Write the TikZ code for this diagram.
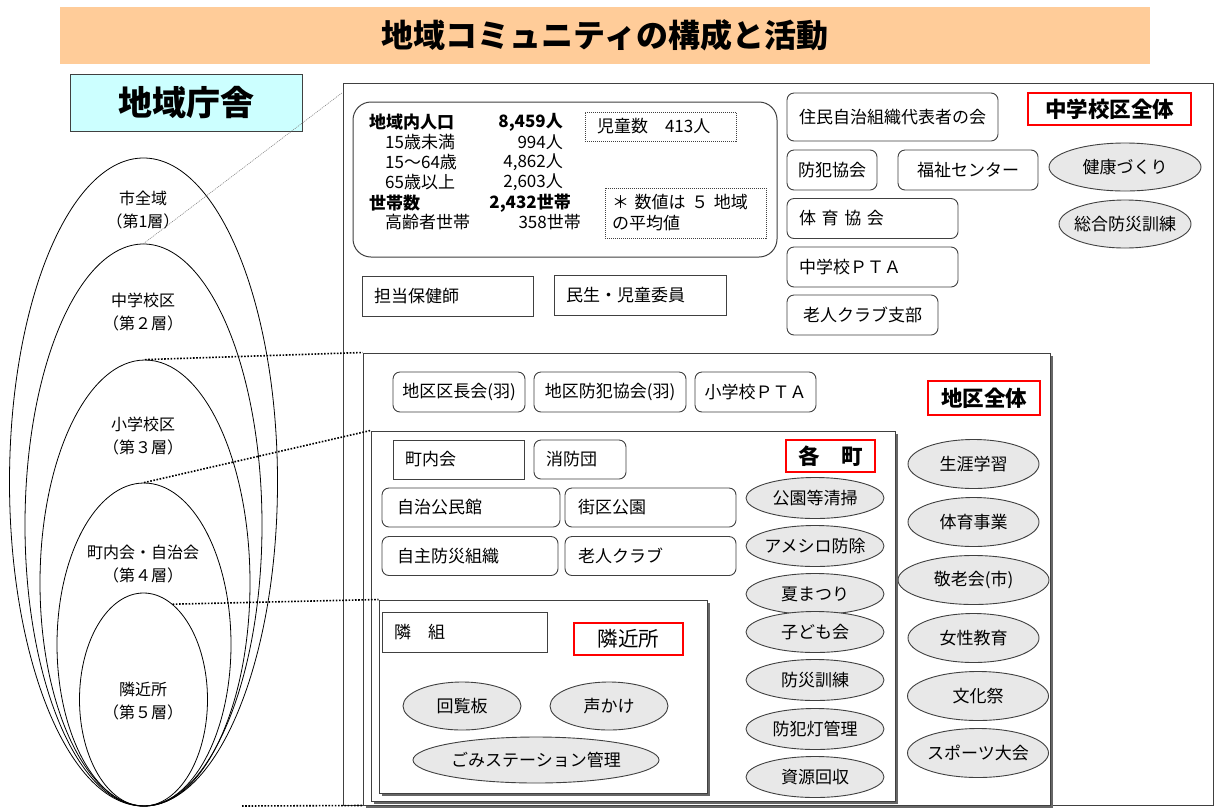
\documentclass[tikz,border=0pt]{standalone}
\usepackage{fontspec}
\setmainfont{Noto Sans CJK JP}
\usetikzlibrary{shapes.geometric,shadows}
\definecolor{band}{HTML}{FFCC99}
\definecolor{choshafill}{HTML}{CCFFFF}
\definecolor{ovalgray}{HTML}{E8E8E8}
\definecolor{frame}{HTML}{404040}
\newcommand{\ovtxt}[1]{\makebox[0pt]{#1}}

\begin{document}
\begin{tikzpicture}[x=1pt, y=-1pt,
  every node/.style={font=\fontsize{17}{20}\selectfont, inner sep=0pt},
  panel/.style={draw=frame, line width=1pt, fill=white},
  shade/.style={drop shadow={shadow xshift=3pt, shadow yshift=-3pt, fill=black!60, opacity=1}},
  sqbox/.style={draw=frame, line width=0.9pt, fill=white, minimum height=40pt, text width=#1, align=left, inner xsep=12pt},
  rbox/.style={sqbox=#1, rounded corners=7pt},
  redbox/.style={draw=red, line width=1.3pt, fill=white, font=\fontsize{21.5}{25}\selectfont\bfseries},
  oval/.style={ellipse, draw=frame, line width=0.9pt, fill=ovalgray, minimum width=#1, minimum height=48pt},
  layer/.style={ellipse, draw, line width=0.8pt, minimum width=#1},
  layertext/.style={align=center, font=\fontsize{16}{23}\selectfont},
  dotbox/.style={draw=frame, line width=1pt, dash pattern=on 1pt off 1pt, align=left},
  zoomline/.style={line width=1.6pt, dash pattern=on 1.6pt off 1.6pt}]
\useasboundingbox (0,0) rectangle (1215,807);

\node[fill=band, minimum width=1090pt, minimum height=57pt, font=\fontsize{32}{36}\selectfont\bfseries] (title) at (605,35.5) {地域コミュニティの構成と活動};
\node[draw=frame, line width=1pt, fill=choshafill, minimum width=232pt, minimum height=57pt, font=\fontsize{34}{38}\selectfont\bfseries] (chosha) at (186,102.5) {地域庁舎};

% layers
\node[layer=268pt, minimum height=648pt] (L1) at (143.5,482) {};
\node[layer=237pt, minimum height=562pt] (L2) at (143.5,525) {};
\node[layer=210pt, minimum height=446pt] (L3) at (145,583) {};
\node[layer=174pt, minimum height=323pt] (L4) at (144,644.5) {};
\node[layer=128pt, minimum height=213pt] (L5) at (143.5,699.5) {};
\node[layertext] (t1) at (143,210) {市全域\\（第1層）};
\node[layertext] (t2) at (143,311.5) {中学校区\\（第２層）};
\node[layertext] (t3) at (143,436) {小学校区\\（第３層）};
\node[layertext] (t4) at (143,564.5) {町内会・自治会\\（第４層）};
\node[layertext] (t5) at (143,701.5) {隣近所\\（第５層）};

% junior high school district
\node[panel, minimum width=870pt, minimum height=722pt] (chugaku) at (778,444) {};
\node[panel, rounded corners=18pt, minimum width=424pt, minimum height=155pt] (jinko) at (565,179.5) {};
\node[anchor=west, font=\fontsize{17}{20}\selectfont\bfseries] (p1) at (369,122) {地域内人口};
\node[anchor=west] (p2) at (385,142) {15歳未満};
\node[anchor=west] (p3) at (385,162) {15～64歳};
\node[anchor=west] (p4) at (385,182) {65歳以上};
\node[anchor=west, font=\fontsize{17}{20}\selectfont\bfseries] (p5) at (369,203) {世帯数};
\node[anchor=west] (p6) at (385,222) {高齢者世帯};
\node[anchor=east, font=\fontsize{17}{20}\selectfont\bfseries] (v1) at (563,122) {8,459人};
\node[anchor=east] (v2) at (563,142) {994人};
\node[anchor=east] (v3) at (563,162) {4,862人};
\node[anchor=east] (v4) at (563,182) {2,603人};
\node[anchor=east, font=\fontsize{17}{20}\selectfont\bfseries] (v5) at (571,203) {2,432世帯};
\node[anchor=east] (v6) at (581,222) {358世帯};
\node[dotbox, minimum width=151pt, minimum height=29pt, text width=127pt, inner xsep=12pt] (jido) at (660.5,126.5) {児童数　413人};
\node[dotbox, minimum width=161pt, minimum height=50pt, text width=147pt, inner xsep=7pt, font=\fontsize{17}{21}\selectfont] (heikin) at (685.5,213) {＊ 数値は ５ 地域\\の平均値};
\node[sqbox=147pt] (hokenshi) at (447.5,296) {担当保健師};
\node[sqbox=148pt] (minsei) at (640,295.5) {民生・児童委員};
\node[rbox=187pt, minimum height=48pt, align=center] (daihyo) at (892.5,117) {住民自治組織代表者の会};
\node[rbox=70pt, inner xsep=10pt, align=center] (bohan) at (832,170) {防犯協会};
\node[rbox=116pt, align=center] (fukushi) at (968,170) {福祉センター};
\node[rbox=147pt] (taiiku) at (872.5,218.5) {体 育 協 会};
\node[rbox=147pt] (cpta) at (872.5,267) {中学校ＰＴＡ};
\node[rbox=127pt, align=center] (rojin) at (862.5,315) {老人クラブ支部};
\node[redbox, minimum width=163pt, minimum height=32pt] (chugakuall) at (1109.5,109) {中学校区全体};
\node[oval=152pt] (kenko) at (1125,167) {\ovtxt{健康づくり}};
\node[oval=132pt] (sogo) at (1125,224) {\ovtxt{総合防災訓練}};

% district
\node[panel, shade, minimum width=687pt, minimum height=452pt] (chiku) at (706.5,579) {};
\node[rbox=116pt, inner xsep=8pt, align=center] (kucho) at (459,392) {地区区長会(羽)};
\node[rbox=136pt, inner xsep=8pt, align=center] (chikubohan) at (610,392) {地区防犯協会(羽)};
\node[rbox=105pt, inner xsep=8pt, align=center] (spta) at (755.5,392) {小学校ＰＴＡ};
\node[redbox, minimum width=112pt, minimum height=34pt] (chikuall) at (984,398) {地区全体};
\node[oval=131pt, minimum height=49pt] (shogai) at (973.5,464) {\ovtxt{生涯学習}};
\node[oval=131pt, minimum height=49pt] (taiikujigyo) at (973.5,522) {\ovtxt{体育事業}};
\node[oval=151pt, minimum height=49pt] (keiro) at (973.5,580) {\ovtxt{敬老会(市)}};
\node[oval=131pt, minimum height=49pt] (josei) at (973.5,638) {\ovtxt{女性教育}};
\node[oval=141pt, minimum height=49pt] (bunka) at (978,696) {\ovtxt{文化祭}};
\node[oval=141pt, minimum height=49pt] (sports) at (978,753) {\ovtxt{スポーツ大会}};

% each town
\node[panel, shade, minimum width=524pt, minimum height=370pt] (kakucho) at (633,616) {};
\node[sqbox=107pt, minimum height=39pt] (chonaikai) at (458.5,459.5) {町内会};
\node[rbox=68pt, minimum height=39pt] (shobodan) at (580,459.5) {消防団};
\node[rbox=148pt, inner xsep=15pt, minimum height=39pt] (kominkan) at (471,507.5) {自治公民館};
\node[rbox=145pt, inner xsep=13pt, minimum height=39pt] (gaiku) at (650.5,507.5) {街区公園};
\node[rbox=146pt, inner xsep=15pt, minimum height=39pt] (jishubosai) at (470,556) {自主防災組織};
\node[rbox=145pt, inner xsep=13pt, minimum height=39pt] (rojinclub) at (650.5,556) {老人クラブ};
\node[redbox, minimum width=89pt, minimum height=32pt] (kakuchored) at (830.5,456) {各　町};
\node[oval=138pt, minimum height=41pt] (koen) at (815,498) {\ovtxt{公園等清掃}};
\node[oval=138pt, minimum height=41pt] (ameshiro) at (815,546) {\ovtxt{アメシロ防除}};
\node[oval=138pt, minimum height=41pt] (natsu) at (815,594) {\ovtxt{夏まつり}};
\node[oval=138pt, minimum height=41pt] (kodomo) at (815,632) {\ovtxt{子ども会}};
\node[oval=138pt, minimum height=41pt] (bosai) at (815,680) {\ovtxt{防災訓練}};
\node[oval=138pt, minimum height=41pt] (bohanto) at (815,729) {\ovtxt{防犯灯管理}};
\node[oval=138pt, minimum height=41pt] (shigen) at (815,777) {\ovtxt{資源回収}};

% neighbourhood
\node[panel, shade, minimum width=328pt, minimum height=193pt] (kinjo) at (543,696.5) {};
\node[sqbox=141pt] (tonarigumi) at (464.5,632) {隣　組};
\node[redbox, font=\fontsize{20.5}{24}\selectfont, minimum width=109pt, minimum height=32pt] (kinjored) at (628.5,639) {隣近所};
\node[oval=118pt] (kairan) at (462,706) {\ovtxt{回覧板}};
\node[oval=118pt] (koekake) at (609,706) {\ovtxt{声かけ}};
\node[oval=246pt, minimum height=46pt] (gomi) at (536,760) {\ovtxt{ごみステーション管理}};

% zoom lines
\coordinate (btm) at (242,806);
\draw[gray, line width=0.6pt, dash pattern=on 1pt off 1pt] (L2.north) -- ([yshift=-10pt]chugaku.north west);
\draw[zoomline] (L3.north) -- (chiku.north west);
\draw[zoomline] (L4.north) -- (kakucho.north west);
\draw[zoomline] (L5.73) -- (kinjo.north west);
\draw[zoomline] (btm) -- (chiku.south west);
\end{tikzpicture}
\end{document}
